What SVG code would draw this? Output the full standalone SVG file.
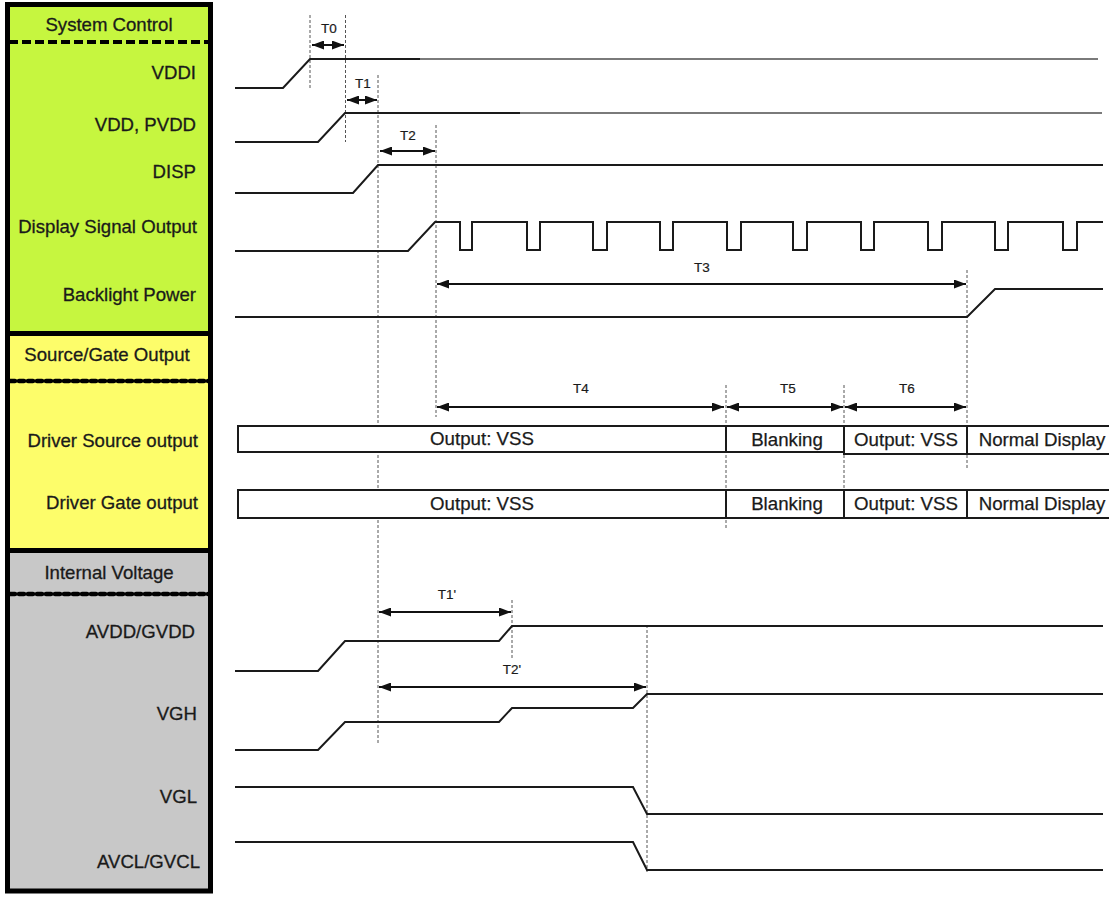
<svg xmlns="http://www.w3.org/2000/svg" width="1109" height="897" viewBox="0 0 1109 897">
<style>
.lbl{font-family:"Liberation Sans",Arial,sans-serif;font-size:18.6px;fill:#1a1a1a;stroke:#1a1a1a;stroke-width:0.3;text-anchor:end}
.hdr{font-family:"Liberation Sans",Arial,sans-serif;font-size:18.6px;fill:#1a1a1a;stroke:#1a1a1a;stroke-width:0.3;text-anchor:middle}
.t{font-family:"Liberation Sans",Arial,sans-serif;font-size:13.5px;fill:#1a1a1a;stroke:#1a1a1a;stroke-width:0.2;text-anchor:middle}
.bx{font-family:"Liberation Sans",Arial,sans-serif;font-size:18.7px;fill:#1a1a1a;stroke:#1a1a1a;stroke-width:0.25;text-anchor:middle}
.wave{fill:none;stroke:#1a1a1a;stroke-width:2;stroke-linejoin:miter}
.grey{fill:none;stroke:#7a7a7a;stroke-width:2}
.guide{fill:none;stroke:#555;stroke-width:1;stroke-dasharray:3 2}
.arr{fill:none;stroke:#111;stroke-width:2;marker-start:url(#ah);marker-end:url(#ah)}
.box{fill:#fff;stroke:#1a1a1a;stroke-width:2}
.div{stroke:#1a1a1a;stroke-width:2}
</style>
<defs>
<marker id="ah" viewBox="0 0 12 9" refX="12" refY="4.5" markerWidth="12" markerHeight="9" markerUnits="userSpaceOnUse" orient="auto-start-reverse">
<path d="M0,0 L12,4.5 L0,9 Z" fill="#111"/>
</marker>
</defs>
<rect width="1109" height="897" fill="#fff"/>

<g id="panel">
<rect x="7.5" y="4.5" width="203" height="329" fill="#c6f63f"/>
<rect x="7.5" y="333.5" width="203" height="217" fill="#fdfd6a"/>
<rect x="7.5" y="550.5" width="203" height="340.5" fill="#c8c8c8"/>
<rect x="7.5" y="4.5" width="203" height="886.5" fill="none" stroke="#000" stroke-width="5"/>
<line x1="7.5" y1="333.5" x2="210.5" y2="333.5" stroke="#000" stroke-width="5"/>
<line x1="7.5" y1="550.5" x2="210.5" y2="550.5" stroke="#000" stroke-width="5"/>
<line x1="9" y1="42" x2="209" y2="42" stroke="#000" stroke-width="4" stroke-dasharray="9 4"/>
<line x1="10" y1="381" x2="209" y2="381" stroke="#000" stroke-width="4.5" stroke-dasharray="5 4" stroke-linecap="round"/>
<line x1="10" y1="594" x2="209" y2="594" stroke="#000" stroke-width="4.5" stroke-dasharray="5 4" stroke-linecap="round"/>
</g>

<g id="headers">
<text class="hdr" x="109" y="31">System Control</text>
<text class="hdr" x="107" y="361">Source/Gate Output</text>
<text class="hdr" x="109" y="579">Internal Voltage</text>
</g>

<g id="labels">
<text class="lbl" x="196" y="79">VDDI</text>
<text class="lbl" x="196" y="131">VDD, PVDD</text>
<text class="lbl" x="196" y="178">DISP</text>
<text class="lbl" x="197" y="233">Display Signal Output</text>
<text class="lbl" x="196" y="301">Backlight Power</text>
<text class="lbl" x="198" y="447">Driver Source output</text>
<text class="lbl" x="198" y="509">Driver Gate output</text>
<text class="lbl" x="195" y="638">AVDD/GVDD</text>
<text class="lbl" x="197" y="720">VGH</text>
<text class="lbl" x="197" y="803">VGL</text>
<text class="lbl" x="200" y="868">AVCL/GVCL</text>
</g>

<g id="guides">
<line class="guide" x1="310" y1="15" x2="310" y2="90"/>
<line class="guide" x1="345.5" y1="15" x2="345.5" y2="142"/>
<line class="guide" x1="378" y1="75" x2="378" y2="745"/>
<line class="guide" x1="436" y1="125" x2="436" y2="417"/>
<line class="guide" x1="967" y1="270" x2="967" y2="470"/>
<line class="guide" x1="726" y1="385" x2="726" y2="530"/>
<line class="guide" x1="844" y1="385" x2="844" y2="490"/>
<line class="guide" x1="512" y1="600" x2="512" y2="660"/>
<line class="guide" x1="647" y1="625" x2="647" y2="872"/>
</g>

<g id="waveforms">
<path id="w-vddi" class="wave" d="M235,88 H283 L310,59 H420"/>
<path class="grey" d="M420,59 H1098"/>
<path id="w-vdd" class="wave" d="M235,142 H318 L345,113 H520"/>
<path class="grey" d="M520,113 H1102"/>
<path id="w-disp" class="wave" d="M235,193 H353 L378,165 H1103"/>
<path id="w-dso" class="wave" d="M235,251 H408 L435,222 H460 V250 H472 V222 H527 V250 H540 V222 H593 V250 H607 V222 H660 V250 H673 V222 H727 V250 H741 V222 H793 V250 H807 V222 H861 V250 H874 V222 H928 V250 H942 V222 H995 V250 H1008 V222 H1063 V250 H1077 V222 H1103"/>
<path id="w-bl" class="wave" d="M235,317 H967 L995,289 H1103"/>
<path id="w-avdd" class="wave" d="M235,671 H318 L345,641 H499 L512,626 H1103"/>
<path id="w-vgh" class="wave" d="M235,750 H318 L345,722 H499 L512,708 H633 L647,694 H1103"/>
<path id="w-vgl" class="wave" d="M235,787 H633 L647,814 H1103"/>
<path id="w-avcl" class="wave" d="M235,842 H633 L647,870 H1103"/>
</g>

<g id="connectors">
<line class="arr" x1="312" y1="45" x2="344" y2="45"/>
<line class="arr" x1="347" y1="100" x2="377" y2="100"/>
<line class="arr" x1="380" y1="151" x2="435" y2="151"/>
<line class="arr" x1="437" y1="284" x2="966" y2="284"/>
<line class="arr" x1="437" y1="407" x2="724" y2="407"/>
<line class="arr" x1="727" y1="407" x2="843" y2="407"/>
<line class="arr" x1="845" y1="407" x2="966" y2="407"/>
<line class="arr" x1="379" y1="612" x2="511" y2="612"/>
<line class="arr" x1="379" y1="687" x2="646" y2="687"/>
</g>

<g id="timings">
<text class="t" x="329" y="33">T0</text>
<text class="t" x="363" y="88">T1</text>
<text class="t" x="408" y="140">T2</text>
<text class="t" x="702" y="272">T3</text>
<text class="t" x="581" y="393">T4</text>
<text class="t" x="788" y="393">T5</text>
<text class="t" x="907" y="393">T6</text>
<text class="t" x="447" y="599">T1'</text>
<text class="t" x="512" y="674">T2'</text>
</g>

<g id="source-row">
<rect class="box" x="238" y="426" width="488" height="26"/>
<rect class="box" x="726" y="426" width="118" height="26"/>
<rect class="box" x="844" y="426" width="123" height="28"/>
<rect class="box" x="967" y="426" width="145" height="28"/>
<text class="bx" x="482" y="445">Output: VSS</text>
<text class="bx" x="787" y="446">Blanking</text>
<text class="bx" x="906" y="446">Output: VSS</text>
<text class="bx" x="1042" y="446">Normal Display</text>
</g>

<g id="gate-row">
<rect class="box" x="238" y="490" width="874" height="28"/>
<line class="div" x1="726" y1="490" x2="726" y2="518"/>
<line class="div" x1="844" y1="490" x2="844" y2="518"/>
<line class="div" x1="967" y1="490" x2="967" y2="518"/>
<text class="bx" x="482" y="510">Output: VSS</text>
<text class="bx" x="787" y="510">Blanking</text>
<text class="bx" x="906" y="510">Output: VSS</text>
<text class="bx" x="1042" y="510">Normal Display</text>
</g>
</svg>
